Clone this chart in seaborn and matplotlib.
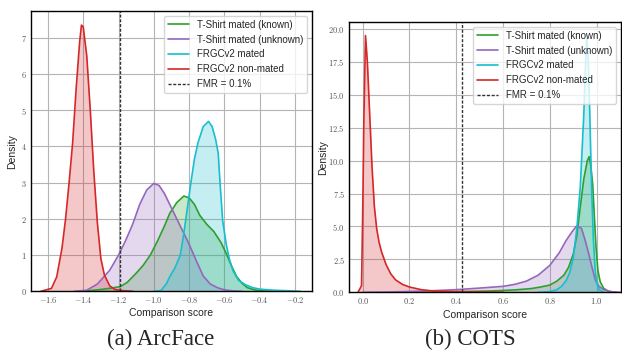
import matplotlib
matplotlib.use('Agg')
import matplotlib.pyplot as plt
from matplotlib.ticker import FuncFormatter, FixedLocator
import seaborn as sns

sns.set_theme(style='whitegrid')
plt.rcParams['font.family'] = ['Liberation Sans', 'DejaVu Sans']
plt.rcParams['mathtext.fontset'] = 'cm'
plt.rcParams['axes.edgecolor'] = 'black'
plt.rcParams['grid.color'] = '#b4b4b4'
plt.rcParams['grid.linewidth'] = 0.8

labels = ['T-Shirt mated (known)', 'T-Shirt mated (unknown)', 'FRGCv2 mated', 'FRGCv2 non-mated']
colors = ['#2ca02c', '#9467bd', '#17becf', '#d62728']

# (a) ArcFace - density curves
arc_known_x = [-1.42, -1.36, -1.30, -1.24, -1.19, -1.15, -1.10, -1.06, -1.02, -0.98, -0.94, -0.91,
               -0.87, -0.83, -0.80, -0.77, -0.74, -0.70, -0.66, -0.62, -0.59, -0.56, -0.53, -0.50,
               -0.47, -0.43, -0.38, -0.32]
arc_known_y = [0.0, 0.02, 0.05, 0.09, 0.13, 0.25, 0.5, 0.72, 1.0, 1.38, 1.8, 2.15,
               2.45, 2.63, 2.58, 2.4, 2.1, 1.85, 1.65, 1.35, 1.05, 0.7, 0.4, 0.22,
               0.1, 0.04, 0.01, 0.0]
arc_unknown_x = [-1.45, -1.38, -1.32, -1.25, -1.20, -1.16, -1.12, -1.08, -1.04, -1.00, -0.97, -0.94,
                 -0.90, -0.87, -0.83, -0.80, -0.76, -0.72, -0.68, -0.64, -0.60, -0.55, -0.50]
arc_unknown_y = [0.0, 0.03, 0.2, 0.58, 1.0, 1.4, 1.85, 2.4, 2.8, 2.98, 2.92, 2.7,
                 2.3, 2.0, 1.6, 1.3, 0.85, 0.42, 0.2, 0.1, 0.04, 0.01, 0.0]
arc_frgc_x = [-1.0, -0.96, -0.93, -0.91, -0.88, -0.85, -0.83, -0.81, -0.79, -0.77, -0.75, -0.72,
              -0.69, -0.67, -0.65, -0.635, -0.625, -0.61, -0.59, -0.57, -0.55, -0.52, -0.48, -0.44,
              -0.40, -0.32, -0.24, -0.17]
arc_frgc_y = [0.0, 0.02, 0.2, 0.4, 0.65, 1.0, 1.6, 2.3, 3.0, 3.65, 4.1, 4.55,
              4.69, 4.55, 4.2, 3.8, 3.0, 1.95, 1.3, 0.85, 0.55, 0.3, 0.18, 0.1,
              0.06, 0.03, 0.015, 0.0]
arc_non_x = [-1.64, -1.58, -1.55, -1.52, -1.50, -1.48, -1.46, -1.44, -1.42, -1.41, -1.40, -1.38,
             -1.36, -1.34, -1.32, -1.30, -1.28, -1.25, -1.22, -1.18, -1.12]
arc_non_y = [0.0, 0.08, 0.4, 1.2, 2.0, 3.0, 4.1, 5.6, 6.9, 7.35, 7.3, 6.5,
             5.0, 3.3, 1.9, 0.9, 0.45, 0.15, 0.05, 0.02, 0.0]
arc_fmr = -1.19

# (b) COTS - density curves
cots_known_x = [0.2, 0.4, 0.55, 0.65, 0.72, 0.76, 0.80, 0.83, 0.86, 0.88, 0.90, 0.915, 0.93,
                0.945, 0.96, 0.968, 0.975, 0.983, 0.99, 0.997, 1.005, 1.015, 1.03, 1.05, 1.08]
cots_known_y = [0.0, 0.05, 0.1, 0.18, 0.28, 0.4, 0.55, 0.85, 1.3, 1.9, 2.9, 4.3, 6.5,
                8.6, 10.0, 10.3, 9.6, 8.2, 5.8, 3.5, 1.7, 0.8, 0.3, 0.08, 0.0]
cots_unknown_x = [0.0, 0.1, 0.2, 0.3, 0.4, 0.5, 0.6, 0.65, 0.7, 0.75, 0.8, 0.84, 0.87, 0.895,
                  0.915, 0.935, 0.95, 0.965, 0.98, 0.995, 1.01, 1.03, 1.06, 1.1]
cots_unknown_y = [0.0, 0.02, 0.06, 0.12, 0.2, 0.32, 0.45, 0.6, 0.85, 1.3, 2.05, 3.0, 3.95, 4.6,
                  5.05, 4.85, 4.0, 3.0, 1.9, 0.9, 0.45, 0.2, 0.05, 0.0]
cots_frgc_x = [0.75, 0.80, 0.83, 0.85, 0.87, 0.885, 0.90, 0.915, 0.93, 0.945, 0.957, 0.965,
               0.972, 0.979, 0.986, 0.993, 1.0, 1.01, 1.03]
cots_frgc_y = [0.0, 0.05, 0.2, 0.45, 0.9, 1.5, 2.6, 4.8, 8.0, 13.5, 19.6, 17.5,
               12.5, 7.5, 4.0, 1.8, 0.7, 0.2, 0.0]
cots_non_x = [-0.02, -0.005, 0.0, 0.005, 0.012, 0.02, 0.03, 0.04, 0.05, 0.06, 0.07, 0.08,
              0.10, 0.12, 0.14, 0.17, 0.20, 0.25, 0.30, 0.40, 0.50, 0.60]
cots_non_y = [0.0, 0.5, 6.0, 13.0, 19.5, 17.5, 13.5, 9.5, 6.5, 4.8, 3.8, 3.1,
              2.1, 1.4, 0.95, 0.6, 0.4, 0.2, 0.1, 0.05, 0.02, 0.0]
cots_fmr = 0.423


def draw_panel(ax, curves, fmr, xlim, ylim, xticks, yticks, yfmt):
    for (xs, ys), lab, col in zip(curves, labels, colors):
        ax.fill_between(xs, ys, color=col, alpha=0.25, linewidth=0)
        sns.lineplot(x=xs, y=ys, ax=ax, color=col, linewidth=1.2, label=lab,
                     sort=False, estimator=None)
    ax.axvline(fmr, color='#333333', linestyle=(0, (2.2, 1.2)), linewidth=1.0, label='FMR = 0.1%')
    ax.set_xlim(*xlim)
    ax.set_ylim(*ylim)
    ax.xaxis.set_major_locator(FixedLocator(xticks))
    ax.yaxis.set_major_locator(FixedLocator(yticks))
    ax.xaxis.set_major_formatter(FuncFormatter(lambda v, p: '$%.1f$' % v))
    ax.yaxis.set_major_formatter(FuncFormatter(lambda v, p: '$' + (yfmt % v) + '$'))
    ax.tick_params(length=0, pad=3, labelsize=6, labelcolor='#555555')
    for s in ax.spines.values():
        s.set_color('black')
        s.set_linewidth(1.0)
    ax.set_xlabel('Comparison score', fontsize=7.5)
    ax.set_ylabel('Density', fontsize=7.5)
    ax.legend(loc='upper right', fontsize=7.0, handlelength=2.2, framealpha=0.8,
              edgecolor='#cccccc', fancybox=True)


fig = plt.figure(figsize=(6.22, 3.5), dpi=100)
ax1 = fig.add_axes([0.0498, 0.1677, 0.4518, 0.8009])
ax2 = fig.add_axes([0.5611, 0.1649, 0.4373, 0.7723])

draw_panel(ax1,
           [(arc_known_x, arc_known_y), (arc_unknown_x, arc_unknown_y),
            (arc_frgc_x, arc_frgc_y), (arc_non_x, arc_non_y)],
           arc_fmr, (-1.696, -0.104), (0, 7.74),
           [-1.6, -1.4, -1.2, -1.0, -0.8, -0.6, -0.4, -0.2], list(range(8)), '%d')
draw_panel(ax2,
           [(cots_known_x, cots_known_y), (cots_unknown_x, cots_unknown_y),
            (cots_frgc_x, cots_frgc_y), (cots_non_x, cots_non_y)],
           cots_fmr, (-0.0585, 1.104), (0, 20.53),
           [0.0, 0.2, 0.4, 0.6, 0.8, 1.0], [0, 2.5, 5, 7.5, 10, 12.5, 15, 17.5, 20], '%.1f')

ax1.yaxis.set_label_coords(-0.048, 0.5)
ax2.yaxis.set_label_coords(-0.077, 0.5)
ax1.xaxis.set_label_coords(0.5, -0.061)
ax2.xaxis.set_label_coords(0.5, -0.064)

fig.text(161 / 622, 0.031, '(a) ArcFace', ha='center', va='center', fontsize=16.5,
         family='Liberation Serif')
fig.text(470 / 622, 0.031, '(b) COTS', ha='center', va='center', fontsize=16.5,
         family='Liberation Serif')

fig.savefig('out.png', dpi=100)
